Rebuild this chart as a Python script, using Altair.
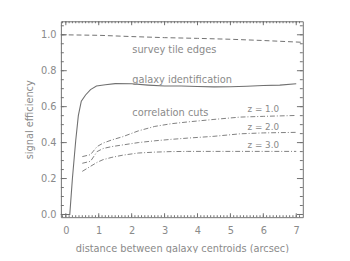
import altair as alt
import numpy as np
import pandas as pd

# ---- data ----
survey_x = [-0.15, 1.0, 2.0, 3.0, 4.0, 5.0, 6.0, 7.2]
survey_y = [1.0, 0.997, 0.99, 0.984, 0.98, 0.975, 0.968, 0.958]

galaxy_x = [-0.15, 0.12, 0.2, 0.3, 0.38, 0.47, 0.6, 0.75, 0.93, 1.2, 1.5, 2.0, 2.5,
            3.0, 3.5, 4.0, 4.5, 5.0, 5.5, 6.0, 6.5, 7.0]
galaxy_y = [0.0, 0.0, 0.2, 0.41, 0.55, 0.63, 0.665, 0.695, 0.715, 0.722, 0.728, 0.727,
            0.72, 0.715, 0.715, 0.712, 0.71, 0.711, 0.714, 0.718, 0.72, 0.727]

corr_x = [0.5, 0.75, 0.95, 1.13, 1.4, 1.73, 2.2, 2.7, 3.2, 3.7, 4.5, 5.3, 6.0, 7.0]
z1_y = [0.322, 0.333, 0.378, 0.397, 0.415, 0.433, 0.465, 0.49, 0.505, 0.515, 0.529, 0.542, 0.546, 0.551]
z2_y = [0.285, 0.296, 0.35, 0.367, 0.378, 0.387, 0.40, 0.41, 0.418, 0.425, 0.435, 0.449, 0.454, 0.457]
z3_y = [0.240, 0.268, 0.29, 0.305, 0.318, 0.330, 0.342, 0.347, 0.350, 0.351, 0.351, 0.351, 0.351, 0.351]

label_text = ["survey tile edges", "galaxy identification", "correlation cuts"]
label_x = [2.02, 2.02, 2.02]
label_y = [0.915, 0.746, 0.566]

zlabel_text = ["z = 1.0", "z = 2.0", "z = 3.0"]
zlabel_x = [5.52, 5.52, 5.52]
zlabel_y = [0.584, 0.487, 0.384]

x_major = [0, 1, 2, 3, 4, 5, 6, 7]
x_minor = [round(v, 2) for v in np.arange(-0.1, 7.2, 0.1)]
y_major = [0.0, 0.2, 0.4, 0.6, 0.8, 1.0]
y_minor = [round(v, 2) for v in np.arange(0.0, 1.08, 0.05)]

XDOM = [-0.15, 7.2]
YDOM = [-0.015, 1.075]
W, H = 247, 200
LINE = "#707070"
TXT = "#8a8a8a"
FONT = "DejaVu Sans"

survey = pd.DataFrame({"x": survey_x, "y": survey_y})
galaxy = pd.DataFrame({"x": galaxy_x, "y": galaxy_y})
corr = pd.concat([
    pd.DataFrame({"x": corr_x, "y": z1_y, "s": "z1"}),
    pd.DataFrame({"x": corr_x, "y": z2_y, "s": "z2"}),
    pd.DataFrame({"x": corr_x, "y": z3_y, "s": "z3"}),
])
labels = pd.DataFrame({"x": label_x, "y": label_y, "t": label_text})
zlabels = pd.DataFrame({"x": zlabel_x, "y": zlabel_y, "t": zlabel_text})

xs = alt.Scale(domain=XDOM, nice=False, zero=False)
ys = alt.Scale(domain=YDOM, nice=False, zero=False)
nx = alt.X("x:Q", scale=xs, axis=None)
ny = alt.Y("y:Q", scale=ys, axis=None)

main_x = alt.X("x:Q", scale=xs, title="distance between galaxy centroids (arcsec)",
               axis=alt.Axis(values=x_major, format="d", ticks=False, domain=False, grid=False,
                             labelPadding=9, titlePadding=8))
main_y = alt.Y("y:Q", scale=ys, title="signal efficiency",
               axis=alt.Axis(values=y_major, format=".1f", ticks=False, domain=False, grid=False,
                             labelPadding=5, titlePadding=6))

l_survey = alt.Chart(survey).mark_line(color=LINE, strokeWidth=1, strokeDash=[5, 3]).encode(
    x=main_x, y=main_y)
l_galaxy = alt.Chart(galaxy).mark_line(color=LINE, strokeWidth=1.1).encode(x=nx, y=ny)
l_corr = alt.Chart(corr).mark_line(color=LINE, strokeWidth=0.9, strokeDash=[5, 2, 1, 2]).encode(
    x=nx, y=ny, detail="s:N")
l_text = alt.Chart(labels).mark_text(align="left", baseline="middle", font=FONT, fontSize=10,
                                     color=TXT).encode(x=nx, y=ny, text="t:N")
l_ztext = alt.Chart(zlabels).mark_text(align="left", baseline="middle", font=FONT, fontSize=9,
                                       color=TXT).encode(x=nx, y=ny, text="t:N")

# inward tick marks on all four sides, positioned through the scales
xmaj = pd.DataFrame({"x": x_major})
xmin = pd.DataFrame({"x": x_minor})
ymaj = pd.DataFrame({"y": y_major})
ymin = pd.DataFrame({"y": y_minor})


def xticks(df, length):
    bot = alt.Chart(df).mark_rule(color=LINE, strokeWidth=1).encode(
        x=nx, y=alt.value(H), y2=alt.value(H - length))
    top = alt.Chart(df).mark_rule(color=LINE, strokeWidth=1).encode(
        x=nx, y=alt.value(0), y2=alt.value(length))
    return [bot, top]


def yticks(df, length):
    left = alt.Chart(df).mark_rule(color=LINE, strokeWidth=1).encode(
        y=ny, x=alt.value(0), x2=alt.value(length))
    right = alt.Chart(df).mark_rule(color=LINE, strokeWidth=1).encode(
        y=ny, x=alt.value(W), x2=alt.value(W - length))
    return [left, right]


ticks = xticks(xmaj, 4) + xticks(xmin, 2) + yticks(ymaj, 6) + yticks(ymin, 3)

chart = alt.layer(l_survey, l_galaxy, l_corr, l_text, l_ztext, *ticks).resolve_axis(
    x="independent", y="independent"
).properties(
    width=W, height=H, autosize="none",
    padding={"left": 54, "top": 11, "right": 40, "bottom": 34},
).configure_view(stroke=LINE, strokeWidth=1).configure_axis(
    labelFont=FONT, titleFont=FONT, labelFontSize=10, titleFontSize=10,
    labelColor=TXT, titleColor=TXT, titleFontWeight="normal",
)

chart.save("out.html", embed_options={"renderer": "svg", "actions": False})
